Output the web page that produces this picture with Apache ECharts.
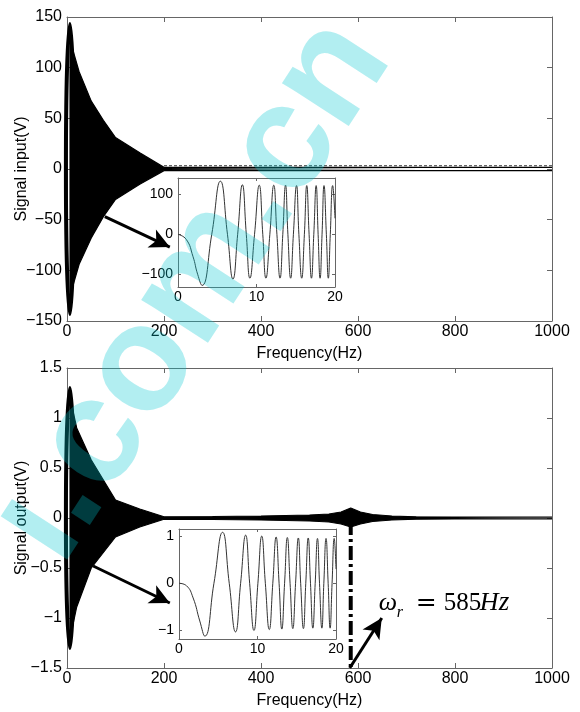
<!DOCTYPE html>
<html lang="en">
<head>
<meta charset="UTF-8">
<title>Signal input / output</title>
<script src="https://cdn.jsdelivr.net/npm/echarts@6/dist/echarts.min.js"></script>
<style>body{margin:0;background:#fff;}</style>
</head>
<body>
<div id="main" style="width:580px;height:712px;"></div>
<script>
// envelope of the input chirp, top panel (Hz, V)
const inEnvX   = [5, 10, 25, 50, 75, 100, 150, 200, 1000];
const inEnvUp  = [134, 121, 96, 67, 48, 31, 16, 1.6, 1.6];
const inEnvLow = [-136, -119, -94, -68, -47, -30, -15, -1.6, -1.6];
const inDashX  = [200, 1000];
const inDashY  = [3.2, 3.2];

// envelope of the output, bottom panel
const outEnvX   = [5, 10, 20, 50, 100, 150, 200, 300, 400, 450, 500, 540, 565, 585, 605, 630, 670, 720, 800, 1000];
const outEnvUp  = [1.26, 1.12, 0.9, 0.58, 0.18, 0.09, 0.012, 0.015, 0.02, 0.025, 0.03, 0.04, 0.06, 0.1, 0.06, 0.035, 0.02, 0.012, 0.01, 0.008];
const outEnvLow = [-1.26, -1.12, -0.89, -0.5, -0.19, -0.09, -0.012, -0.015, -0.02, -0.025, -0.03, -0.04, -0.06, -0.09, -0.06, -0.035, -0.02, -0.012, -0.01, -0.008];

// resonance marker
const resFreq = 585;
const resLineY = [-0.03, -1.5];

// zoomed views, 0-20 Hz
const zoomInX = [0, 1.06, 1.9, 2.5, 3.07, 4.3, 5.4, 6.3, 7.0, 7.6, 8.2, 8.7, 9.16, 9.75, 10.35, 10.8, 11.2, 11.7, 12.2, 12.6, 13.0, 13.35, 13.7, 14.0, 14.35, 14.7, 15.1, 15.4, 15.76, 16.1, 16.4, 16.7, 17.0, 17.3, 17.6, 17.85, 18.1, 18.35, 18.6, 18.9, 19.15, 19.4, 19.7, 20];
const zoomInY = [0, -13, -55, -100, -128, 0, 133, 0, -112, 0, 124, 0, -110, 0, 123, 0, -110, 0, 123, 0, -110, 0, 123, 0, -110, 0, 122, 0, -110, 0, 122, 0, -110, 0, 122, 0, -110, 0, 122, 0, -110, 0, 122, 40];
const zoomOutX = [0, 0.94, 1.8, 2.65, 3.29, 4.45, 5.55, 6.4, 7.2, 7.85, 8.49, 9.0, 9.55, 10.05, 10.54, 11.0, 11.5, 11.95, 12.37, 12.75, 13.1, 13.45, 13.8, 14.15, 14.5, 14.85, 15.2, 15.5, 15.85, 16.15, 16.46, 16.75, 17.05, 17.35, 17.64, 17.9, 18.2, 18.45, 18.73, 19.0, 19.25, 19.5, 19.77, 20];
const zoomOutY = [0, -0.05, -0.31, -0.8, -1.12, 0, 1.08, 0, -1.03, 0, 1.02, 0, -1.0, 0, 1.0, 0, -0.98, 0, 0.98, 0, -0.97, 0, 0.97, 0, -0.96, 0, 0.96, 0, -0.96, 0, 0.96, 0, -0.95, 0, 0.95, 0, -0.95, 0, 0.95, 0, -0.95, 0, 0.95, 0.3];

const pts = (xs, ys) => xs.map((x, i) => [x, ys[i]]);
const minus = v => String(v).replace('-', '\u2212');
const FONT = 'Liberation Sans';
const frame = '#666';

// one axis pair for each side so the box and its inward ticks show on all four
function xPair(grid, min, max, interval, withName, fs, tick) {
  const base = {
    gridIndex: grid, type: 'value', min: min, max: max, interval: interval,
    axisLine: { show: true, onZero: false, lineStyle: { color: frame, width: 1 } },
    axisTick: { show: true, inside: true, length: tick, lineStyle: { color: frame } },
    splitLine: { show: false }
  };
  return [
    Object.assign({}, base, {
      position: 'bottom',
      axisLabel: { color: '#000', fontSize: fs, fontFamily: FONT, margin: 3, formatter: v => String(v) },
      name: withName ? 'Frequency(Hz)' : '', nameLocation: 'middle', nameGap: 25, nameMoveOverlap: false,
      nameTextStyle: { color: '#000', fontSize: 16, fontFamily: FONT }
    }),
    Object.assign({}, base, { position: 'top', axisLabel: { show: false } })
  ];
}
function yPair(grid, min, max, interval, name, fs, tick, custom) {
  const base = {
    gridIndex: grid, type: 'value', min: min, max: max, interval: interval,
    axisLine: { show: true, onZero: false, lineStyle: { color: frame, width: 1 } },
    axisTick: { show: true, inside: true, length: tick, lineStyle: { color: frame }, customValues: custom },
    splitLine: { show: false }
  };
  return [
    Object.assign({}, base, {
      position: 'left',
      axisLabel: { color: '#000', fontSize: fs, fontFamily: FONT, margin: 5, formatter: minus, customValues: custom },
      name: name, nameLocation: 'middle', nameGap: 37, nameMoveOverlap: false,
      nameTextStyle: { color: '#000', fontSize: 16, fontFamily: FONT }
    }),
    Object.assign({}, base, { position: 'right', axisLabel: { show: false } })
  ];
}

const arrowLine = (from, to) => [{ coord: from }, { coord: to }];
const arrowStyle = {
  silent: true, symbol: ['none', 'arrow'], symbolSize: [15, 20], animation: false,
  lineStyle: { color: '#000', width: 3, type: 'solid' }, label: { show: false }
};

function band(xi, yi, data, mark) {
  const s = {
    type: 'line', xAxisIndex: xi, yAxisIndex: yi, data: data, symbol: 'none',
    lineStyle: { color: '#000', width: 1.2 }, areaStyle: { color: '#000', opacity: 1 },
    silent: true, z: 2
  };
  if (mark) s.markLine = Object.assign({}, arrowStyle, { data: mark });
  return s;
}

const option = {
  animation: false,
  backgroundColor: '#fff',
  grid: [
    { left: 67, top: 17, width: 485, height: 304 },
    { left: 67, top: 368, width: 485, height: 300 },
    { left: 178, top: 178, width: 157, height: 109, show: true, backgroundColor: '#fff', borderWidth: 0 },
    { left: 179, top: 529, width: 157, height: 110, show: true, backgroundColor: '#fff', borderWidth: 0 }
  ],
  xAxis: [].concat(
    xPair(0, 0, 1000, 200, true, 16, 5),
    xPair(1, 0, 1000, 200, true, 16, 5),
    xPair(2, 0, 20, 10, false, 14, 3),
    xPair(3, 0, 20, 10, false, 14, 3)
  ),
  yAxis: [].concat(
    yPair(0, -150, 150, 50, 'Signal input(V)', 16, 5),
    yPair(1, -1.5, 1.5, 0.5, 'Signal output(V)', 16, 5),
    yPair(2, -132, 141, null, '', 14, 3, [-100, 0, 100]),
    yPair(3, -1.18, 1.15, null, '', 14, 3, [-1, 0, 1])
  ),
  series: [
    band(0, 0, pts(inEnvX, inEnvUp), [arrowLine([78, -47], [212, -77])]),
    band(0, 0, pts(inEnvX, inEnvLow)),
    {
      type: 'line', xAxisIndex: 0, yAxisIndex: 0, data: pts(inDashX, inDashY), symbol: 'none',
      lineStyle: { color: '#333', width: 1, type: [3, 2] }, silent: true, z: 3
    },
    band(2, 2, pts(outEnvX, outEnvUp), [
      arrowLine([54, -0.48], [212, -0.85]),
      arrowLine([583, -1.5], [649, -1.0])
    ]),
    band(2, 2, pts(outEnvX, outEnvLow)),
    {
      type: 'line', xAxisIndex: 2, yAxisIndex: 2, data: [[resFreq, resLineY[0]], [resFreq, resLineY[1]]],
      symbol: 'none', lineStyle: { color: '#000', width: 4, type: [14, 4, 3, 4] }, silent: true, z: 3
    },
    {
      type: 'line', xAxisIndex: 4, yAxisIndex: 4, data: pts(zoomInX, zoomInY), symbol: 'none',
      smooth: 0.5, lineStyle: { color: '#333', width: 1 }, silent: true, z: 5
    },
    {
      type: 'line', xAxisIndex: 6, yAxisIndex: 6, data: pts(zoomOutX, zoomOutY), symbol: 'none',
      smooth: 0.5, lineStyle: { color: '#333', width: 1 }, silent: true, z: 5
    }
  ]
};

const chart = echarts.init(document.getElementById('main'));
chart.setOption(option);

// ellipses around the low-frequency start and the annotation text
const e0 = chart.convertToPixel({ xAxisIndex: 0, yAxisIndex: 0 }, [6, 0]);
const e1 = chart.convertToPixel({ xAxisIndex: 2, yAxisIndex: 2 }, [6, 0]);
const lab = chart.convertToPixel({ xAxisIndex: 2, yAxisIndex: 2 }, [643, -0.92]);
const serif = 'Liberation Serif';
const by = lab[1] + 6;
const txt = (dx, dy, s, font) => ({
  type: 'text', x: lab[0] + dx, y: by + dy, z: 10, silent: true,
  style: { text: s, font: font, fill: '#000', verticalAlign: 'bottom' }
});

chart.setOption({
  graphic: [
    { type: 'ellipse', shape: { cx: e0[0], cy: e0[1], rx: 4, ry: 145 }, style: { fill: null, stroke: '#000', lineWidth: 4 }, z: 10, silent: true },
    { type: 'ellipse', shape: { cx: e1[0], cy: e1[1], rx: 4, ry: 130 }, style: { fill: null, stroke: '#000', lineWidth: 4 }, z: 10, silent: true },
    txt(0, 0, '\u03c9', 'italic 26px ' + serif),
    txt(18, 5, 'r', 'italic 16px ' + serif),
    txt(37, 0, '=', '25px DejaVu Serif'),
    txt(65, 0, '585', '25px ' + serif),
    txt(101, 0, 'H', 'italic 26px ' + serif),
    txt(120, 0, 'z', 'italic 27px ' + serif),
    // watermark
    { type: 'text', x: -36, y: 505, rotation: 0.995, silent: true, z: 100,
      style: { text: 'i.com.cn', font: 'bold 150px ' + FONT, fill: 'rgba(0,200,210,0.3)' } }
  ]
});
</script>
</body>
</html>
